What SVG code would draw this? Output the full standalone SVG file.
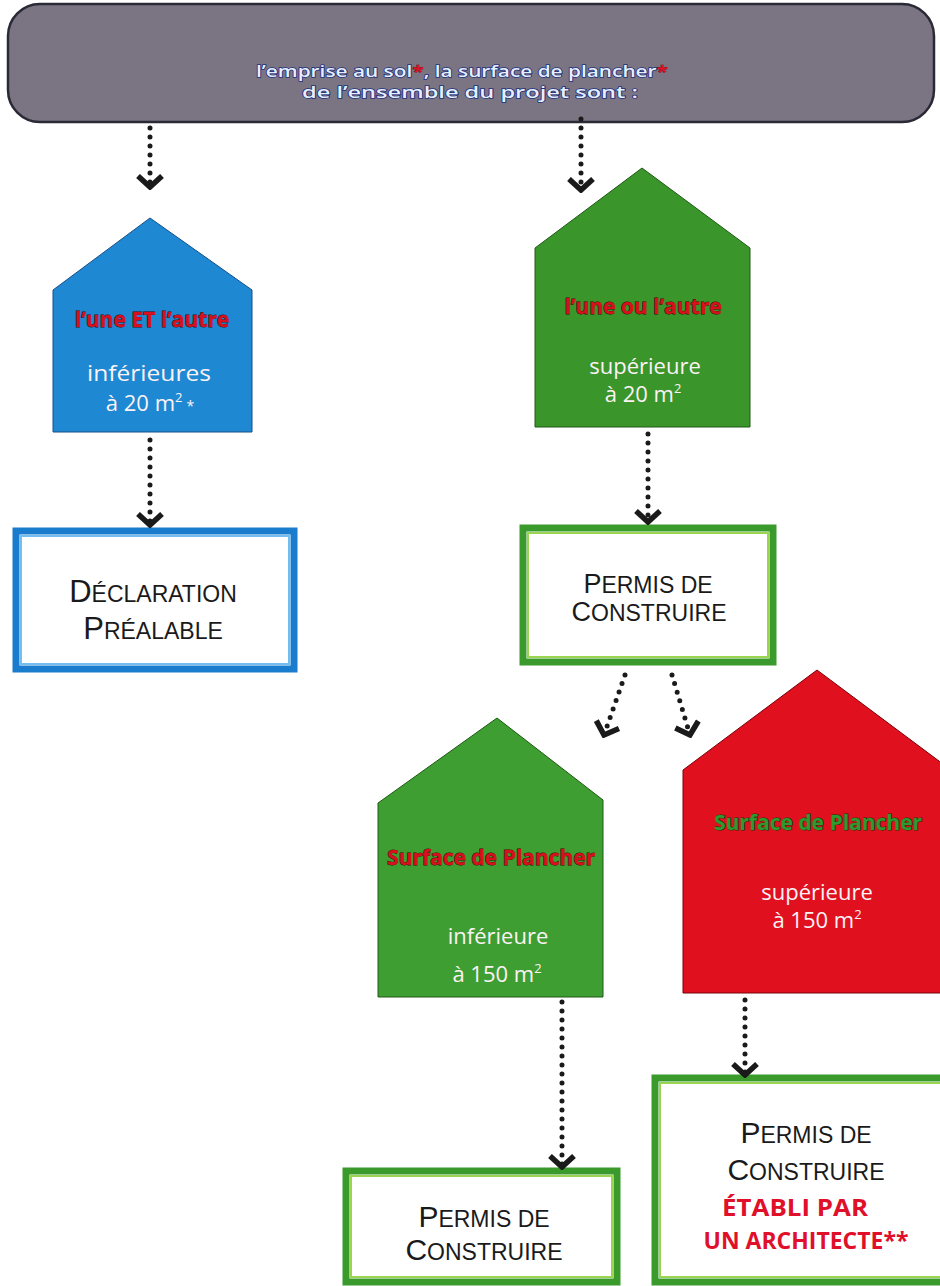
<svg xmlns="http://www.w3.org/2000/svg" width="940" height="1286" viewBox="0 0 940 1286">
<style>
.bann{font-family:"Open Sans","Liberation Sans",sans-serif;font-size:17px;font-weight:600;fill:#e6eeff;stroke:#1d2f7a;stroke-width:1.5px;paint-order:stroke;text-anchor:middle}
.star{fill:#e0102a;stroke:#600;stroke-width:0.6px}
.redlbl{font-family:"Open Sans","Liberation Sans",sans-serif;font-weight:bold;font-size:21px;fill:#d8101e;stroke:#4a0000;stroke-width:0.8px;paint-order:stroke;text-anchor:middle}
.grnlbl{font-family:"Open Sans","Liberation Sans",sans-serif;font-weight:bold;font-size:21px;fill:#2e9a2e;stroke:#103810;stroke-width:0.9px;paint-order:stroke;text-anchor:middle}
.wht{font-family:"Open Sans","Liberation Sans",sans-serif;font-size:22px;fill:#fbf2f6;text-anchor:middle}
.box{font-family:"Liberation Sans",sans-serif;font-size:23px;fill:#1a1a1a;text-anchor:middle}
.big{font-size:30px}
.arch{font-family:"Open Sans","Liberation Sans",sans-serif;font-weight:bold;font-size:23px;fill:#e0102a;text-anchor:middle}
.conn{fill:none;stroke:#1a1a1a;stroke-width:5;stroke-linecap:round;stroke-dasharray:0 9}
.bluebox{fill:#fff;stroke:#1a7ccc;stroke-width:7}
.bluein{fill:none;stroke:#72bdf2;stroke-width:2}
.grnbox{fill:#fff;stroke:#3a9a2c;stroke-width:7}
.grnin{fill:none;stroke:#9ad450;stroke-width:2}
</style>
<defs>
<marker id="chev" viewBox="0 0 16 28" refX="13" refY="14" markerWidth="16" markerHeight="28" orient="auto" markerUnits="userSpaceOnUse">
<path d="M2,2 L13,14 L2,26" fill="none" stroke="#1a1a1a" stroke-width="5.5" stroke-linejoin="miter"/>
</marker>
</defs>

<g id="banner">
<rect x="8" y="4" width="926" height="118" rx="32" fill="#7b7583" stroke="#2a2a36" stroke-width="2.5"/>
<text class="bann" x="462" y="77" textLength="412" lengthAdjust="spacingAndGlyphs">l’emprise au sol<tspan class="star">*</tspan>, la surface de plancher<tspan class="star">*</tspan></text>
<text class="bann" x="470" y="98" textLength="336" lengthAdjust="spacingAndGlyphs">de l’ensemble du projet sont :</text>
</g>

<g id="house-blue">
<polygon points="53,290 150,218 252,290 252,432 53,432" fill="#1f88d2" stroke="#14508a" stroke-width="1"/>
<text class="redlbl" x="152" y="327">l’une ET l’autre</text>
<text class="wht" x="149" y="381" textLength="124" lengthAdjust="spacingAndGlyphs">inférieures</text>
<text class="wht" x="150" y="411">à 20 m<tspan font-size="13" dy="-9">2</tspan><tspan dx="4" dy="9" font-size="14">*</tspan></text>
</g>

<g id="house-green1">
<polygon points="535,248 642,168 750,248 750,427 535,427" fill="#3a962a" stroke="#1e5a14" stroke-width="1"/>
<text class="redlbl" x="643" y="314">l’une ou l’autre</text>
<text class="wht" x="645" y="374" font-size="21">supérieure</text>
<text class="wht" x="643" y="402" font-size="21">à  20 m<tspan font-size="13" dy="-9">2</tspan></text>
</g>

<g id="box-declaration">
<rect class="bluebox" x="16" y="531" width="278" height="138"/>
<rect class="bluein" x="21" y="536" width="268" height="128"/>
<text class="box" x="153" y="602" font-size="24"><tspan font-size="31">D</tspan>ÉCLARATION</text>
<text class="box" x="153" y="639" font-size="24"><tspan font-size="31">P</tspan>RÉALABLE</text>
</g>

<g id="box-permis1">
<rect class="grnbox" x="523" y="528" width="250" height="134"/>
<rect class="grnin" x="528" y="533" width="240" height="124"/>
<text class="box" x="648" y="593" font-size="20"><tspan font-size="27">P</tspan>ERMIS DE</text>
<text class="box" x="649" y="621" font-size="20"><tspan font-size="27">C</tspan>ONSTRUIRE</text>
</g>

<g id="house-green2">
<polygon points="378,803 497,718 603,800 603,997 378,997" fill="#3f9e32" stroke="#1e5a14" stroke-width="1"/>
<text class="redlbl" x="491" y="865" font-size="22">Surface de Plancher</text>
<text class="wht" x="498" y="944">inférieure</text>
<text class="wht" x="497" y="982">à 150 m<tspan font-size="13" dy="-9">2</tspan></text>
</g>

<g id="house-red">
<polygon points="683,770 817,670 951,770 951,993 683,993" fill="#e0101e" stroke="#7a0008" stroke-width="1"/>
<text class="grnlbl" x="818" y="830" font-size="22">Surface de Plancher</text>
<text class="wht" x="817" y="900">supérieure</text>
<text class="wht" x="817" y="928">à 150 m<tspan font-size="13" dy="-9">2</tspan></text>
</g>

<g id="box-permis2">
<rect class="grnbox" x="346" y="1171" width="271" height="111"/>
<rect class="grnin" x="351" y="1176" width="261" height="101"/>
<text class="box" x="484" y="1227"><tspan class="big">P</tspan>ERMIS DE</text>
<text class="box" x="484" y="1260"><tspan class="big">C</tspan>ONSTRUIRE</text>
</g>

<g id="box-permis3">
<rect class="grnbox" x="655" y="1078" width="295" height="204"/>
<rect class="grnin" x="660" y="1083" width="285" height="194"/>
<text class="box" x="806" y="1143"><tspan class="big">P</tspan>ERMIS DE</text>
<text class="box" x="806" y="1180"><tspan class="big">C</tspan>ONSTRUIRE</text>
<text class="arch" x="795" y="1216" textLength="146" lengthAdjust="spacingAndGlyphs">ÉTABLI PAR</text>
<text class="arch" x="806" y="1249" textLength="205" lengthAdjust="spacingAndGlyphs">UN ARCHITECTE**</text>
</g>

<g id="connectors">
<line class="conn" x1="150" y1="128" x2="150" y2="187" marker-end="url(#chev)"/>
<line class="conn" x1="581" y1="119" x2="581" y2="190" marker-end="url(#chev)"/>
<line class="conn" x1="150" y1="440" x2="150" y2="525" marker-end="url(#chev)"/>
<line class="conn" x1="648" y1="434" x2="648" y2="522" marker-end="url(#chev)"/>
<line class="conn" x1="625" y1="675" x2="604" y2="735" marker-end="url(#chev)"/>
<line class="conn" x1="672" y1="675" x2="690" y2="735" marker-end="url(#chev)"/>
<line class="conn" x1="745" y1="1000" x2="745" y2="1075" marker-end="url(#chev)"/>
<line class="conn" x1="562" y1="1002" x2="562" y2="1167" marker-end="url(#chev)"/>
</g>
</svg>
